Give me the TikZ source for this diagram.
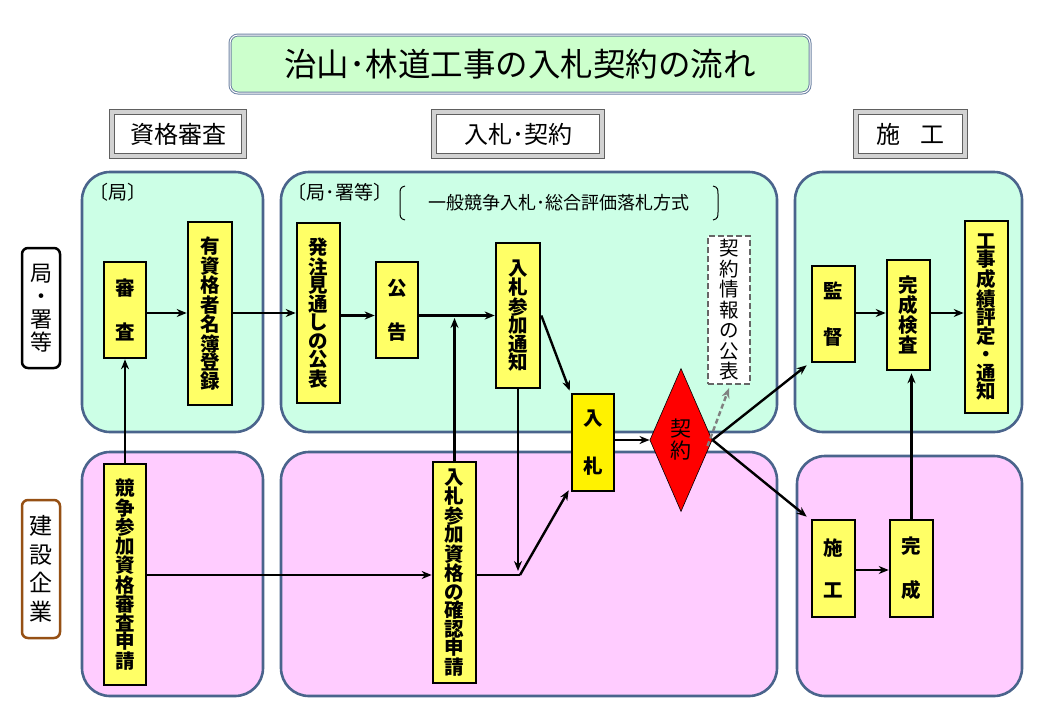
\documentclass[tikz,border=0pt]{standalone}
\usepackage{fontspec}
\setmainfont{Noto Sans CJK JP}
\usetikzlibrary{shapes.geometric,arrows.meta,calc}
\definecolor{pgreen}{RGB}{204,255,230}
\definecolor{tgreen}{RGB}{204,255,204}
\definecolor{ppink}{RGB}{255,204,255}
\definecolor{pborder}{RGB}{74,100,140}
\definecolor{ybox}{RGB}{255,255,102}
\definecolor{brownb}{RGB}{150,80,20}
\begin{document}
\begin{tikzpicture}[x=1pt,y=-1pt,
  panel/.style={draw=pborder,line width=2.6pt,rounded corners=28pt},
  gpanel/.style={panel,fill=pgreen},
  ppanel/.style={panel,fill=ppink},
  ybx/.style={draw=black,line width=2.6pt,fill=ybox,inner sep=0pt,align=center,
     font=\fontsize{19.5}{18.5}\selectfont\bfseries},
  btn/.style={draw=gray!75!black,double=gray!35,double distance=4.5pt,line width=0.7pt,fill=white,
     inner sep=0pt,font=\fontsize{24}{26}\selectfont},
  side/.style={rounded corners=6pt,line width=2.5pt,fill=white,inner sep=0pt,align=center},
  arr/.style={-{Stealth[length=10pt,width=8pt]},line width=2.4pt},
  ln/.style={line width=2.4pt},
  sub/.style={font=\fontsize{19}{21}\selectfont}
]
\useasboundingbox (0,0) rectangle (1040,720);
\fill[white] (0,0) rectangle (1040,720);

% title
\node[draw=pborder!80,double=white,double distance=1pt,line width=1pt,fill=tgreen,rounded corners=8pt,
  minimum width=580pt,minimum height=58pt,inner sep=0pt,font=\fontsize{32.5}{34}\selectfont] (title) at (520,64) {治山･林道工事の入札契約の流れ};

% headers
\node[btn,minimum width=132pt,minimum height=44pt] (h1) at (178,134) {資格審査};
\node[btn,minimum width=168pt,minimum height=44pt] (h2) at (518,134) {入札･契約};
\node[btn,minimum width=109pt,minimum height=44pt] (h3) at (910.5,134) {施\hspace{0.8em}工};

% side labels
\node[side,draw=black,minimum width=38pt,minimum height=120pt,font=\fontsize{22}{23}\selectfont] (kyoku) at (41,308) {局\\・\\署\\等};
\node[side,draw=brownb,minimum width=38pt,minimum height=138pt,font=\fontsize{23}{28.5}\selectfont] (kigyo) at (41,569) {建\\設\\企\\業};

% panels
\draw[gpanel] (82,172) rectangle (263,432);
\draw[gpanel] (281,172) rectangle (777,432);
\draw[gpanel] (795,172) rectangle (1022,432);
\draw[ppanel] (82,452) rectangle (263,696);
\draw[ppanel] (281,452) rectangle (777,696);
\draw[ppanel] (797,456) rectangle (1022,696);

% panel labels
\node[sub] (lk1) at (118,192) {〔局〕};
\node[sub] (lk2) at (340,192) {〔局･署等〕};
\node[font=\fontsize{18}{20}\selectfont] (method) at (559,203) {一般競争入札･総合評価落札方式};
\draw[line width=1pt] (405,186) .. controls (400,187) and (400,190) .. (400,194) -- (400,212) .. controls (400,216) and (400,219) .. (405,220);
\draw[line width=1pt] (713,186) .. controls (718,187) and (718,190) .. (718,194) -- (718,212) .. controls (718,216) and (718,219) .. (713,220);

% yellow boxes
\node[ybx,minimum width=42pt,minimum height=96pt] (shinsa) at (125,310) {審\\[26pt]査};
\node[ybx,minimum width=44pt,minimum height=183pt] (meibo) at (210,313.5) {有\\資\\格\\者\\名\\簿\\登\\録};
\node[ybx,minimum width=43pt,minimum height=180pt] (hacchu) at (318.5,313) {発\\注\\見\\通\\し\\の\\公\\表};
\node[ybx,minimum width=42pt,minimum height=96pt] (koukoku) at (397,310) {公\\[24pt]告};
\node[ybx,minimum width=44pt,minimum height=145pt] (tsuuchi) at (518,315.5) {入\\札\\参\\加\\通\\知};
\node[ybx,fill=yellow,minimum width=42pt,minimum height=97pt] (nyusatsu) at (593,442.5) {入\\[28pt]札};
\node[diamond,draw=black,line width=0.6pt,fill=red,minimum width=54pt,minimum height=143pt,inner sep=0pt,
  align=center,font=\fontsize{21}{22}\selectfont] (keiyaku) at (681,440) {契\\約};
\node[draw=gray!80!black,dash pattern=on 6pt off 3pt,line width=2.2pt,fill=white,minimum width=42pt,minimum height=148pt,
  inner sep=0pt,align=center,font=\fontsize{19.5}{20.5}\selectfont] (kohyo) at (729,310) {契\\約\\情\\報\\の\\公\\表};
\node[ybx,minimum width=43pt,minimum height=96pt] (kantoku) at (833.5,314) {監\\[28pt]督};
\node[ybx,minimum width=43pt,minimum height=110pt] (kensa) at (908.5,315) {完\\成\\検\\査};
\node[ybx,minimum width=43pt,minimum height=192pt] (hyotei) at (986.5,317) {工\\事\\成\\績\\評\\定\\・\\通\\知};
\node[ybx,minimum width=42pt,minimum height=221pt] (shinsei) at (125,574.5) {競\\争\\参\\加\\資\\格\\審\\査\\申\\請};
\node[ybx,minimum width=43pt,minimum height=221pt] (kakunin) at (454.5,572.5) {入\\札\\参\\加\\資\\格\\の\\確\\認\\申\\請};
\node[ybx,minimum width=43pt,minimum height=97pt] (sekou) at (833.5,568.5) {施\\[24pt]工};
\node[ybx,minimum width=43pt,minimum height=97pt] (kansei) at (911.5,568.5) {完\\[24pt]成};

% connectors
\draw[arr] (shinsei.north) -- (shinsa.south);
\draw[arr] (shinsa.east |- 0,313) -- (meibo.west |- 0,313);
\draw[arr] (meibo.east |- 0,313) -- (hacchu.west |- 0,313);
\draw[arr] (hacchu.east |- tsuuchi.west) -- (koukoku.west |- tsuuchi.west);
\draw[arr] (koukoku.east |- tsuuchi.west) -- (tsuuchi.west);
\draw[arr] (kakunin.north) -- (kakunin.north |- 0,318);
\draw[arr] (shinsei.east |- 0,575) -- (kakunin.west |- 0,575);
\coordinate (j) at (520,575);
\draw[ln] (kakunin.east |- j) -- (j);
\draw[arr] (j) -- ([xshift=-2pt,yshift=2pt]nyusatsu.south west);
\draw[arr] (tsuuchi.south) -- (tsuuchi.south |- 0,571);
\draw[arr] (tsuuchi.east) -- ([xshift=-1pt,yshift=2pt]nyusatsu.north west);
\draw[arr] (nyusatsu.east |- keiyaku.west) -- (keiyaku.west);
\draw[-{Stealth[length=10pt,width=8pt]},gray,line width=2.4pt,dash pattern=on 5pt off 3pt] ([xshift=-5pt,yshift=-6pt]keiyaku.east) -- ([yshift=-3pt]kohyo.south);
\draw[arr] (keiyaku.east) -- ([xshift=-4pt,yshift=-2pt]kantoku.south west);
\draw[arr] (keiyaku.east) -- ([xshift=-4pt,yshift=2pt]sekou.north west);
\draw[arr] (kantoku.east |- 0,313) -- (kensa.west |- 0,313);
\draw[arr] (kensa.east |- 0,313) -- (hyotei.west |- 0,313);
\draw[arr] (kansei.north) -- ([yshift=-2pt]kensa.south -| kansei.north);
\draw[arr] (sekou.east |- 0,570) -- (kansei.west |- 0,570);
\end{tikzpicture}
\end{document}
